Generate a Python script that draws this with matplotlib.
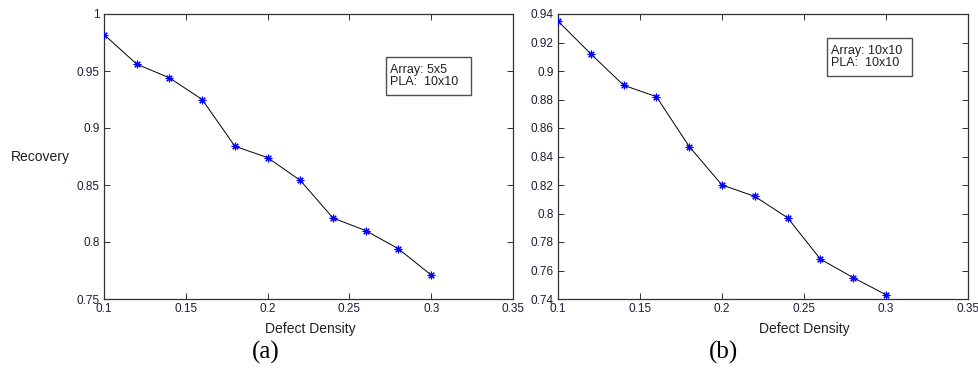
import matplotlib
matplotlib.use("Agg")
import matplotlib.pyplot as plt
from matplotlib.patches import Rectangle

plt.rcParams['font.family'] = ['Liberation Sans', 'DejaVu Sans']

density = [0.10, 0.12, 0.14, 0.16, 0.18, 0.20, 0.22, 0.24, 0.26, 0.28, 0.30]
recovery_a = [0.982, 0.956, 0.944, 0.925, 0.884, 0.874, 0.854, 0.821, 0.810, 0.794, 0.771]
recovery_b = [0.935, 0.912, 0.890, 0.882, 0.847, 0.820, 0.812, 0.797, 0.768, 0.755, 0.743]

xticks = [0.1, 0.15, 0.2, 0.25, 0.3, 0.35]
xticklabels = ['0.1', '0.15', '0.2', '0.25', '0.3', '0.35']
yticks_a = [0.75, 0.8, 0.85, 0.9, 0.95, 1.0]
yticklabels_a = ['0.75', '0.8', '0.85', '0.9', '0.95', '1']
yticks_b = [0.74, 0.76, 0.78, 0.80, 0.82, 0.84, 0.86, 0.88, 0.90, 0.92, 0.94]
yticklabels_b = ['0.74', '0.76', '0.78', '0.8', '0.82', '0.84', '0.86', '0.88', '0.9', '0.92', '0.94']

legend_a = "Array: 5x5\nPLA:  10x10"
legend_b = "Array: 10x10\nPLA:  10x10"

W, H = 979, 368
fig = plt.figure(figsize=(W / 100, H / 100), dpi=100)

def px_rect(l, t, r, b):
    return [l / W, 1 - b / H, (r - l) / W, (b - t) / H]

axA = fig.add_axes(px_rect(104, 14, 513, 299))
axB = fig.add_axes(px_rect(558, 14, 968, 299))

tick_col = '#1c1c38'
for ax, y, yt, ytl, ylim in [
    (axA, recovery_a, yticks_a, yticklabels_a, (0.75, 1.0)),
    (axB, recovery_b, yticks_b, yticklabels_b, (0.74, 0.94)),
]:
    ax.plot(density, y, color='black', lw=0.7, zorder=2)
    ax.plot(density, y, linestyle='none', marker=(8, 2, 0), markersize=5.5,
            markeredgecolor='#0000ff', markeredgewidth=0.8, zorder=3)
    ax.set_xlim(0.1, 0.35)
    ax.set_ylim(*ylim)
    ax.set_xticks(xticks)
    ax.set_xticklabels(xticklabels)
    ax.set_yticks(yt)
    ax.set_yticklabels(ytl)
    ax.tick_params(direction='in', top=True, right=True, length=4, width=0.7,
                   labelsize=8.5, colors='#303030', labelcolor=tick_col, pad=3)
    for s in ax.spines.values():
        s.set_linewidth(0.9)
        s.set_color('#303030')
    ax.set_xlabel('Defect Density', fontsize=10, color='#202020')

axA.xaxis.set_label_coords(0.505, -0.082)
axB.xaxis.set_label_coords(0.60, -0.082)
axA.set_ylabel('Recovery', fontsize=10, color='#202020', rotation=0, va='center', ha='center')
axA.yaxis.set_label_coords(-0.155, 0.5)

# legend-like boxes
for (l, t, r, b), txt in [((386, 57, 471, 95), legend_a), ((827, 38, 912, 76), legend_b)]:
    fig.patches.append(Rectangle((l / W, 1 - b / H), (r - l) / W, (b - t) / H,
                                 transform=fig.transFigure, fill=True, facecolor='white',
                                 edgecolor='#505050', lw=1.0, zorder=5))
    fig.text((l + 4) / W, 1 - ((t + b) / 2) / H, txt, fontsize=9, va='center', ha='left',
             color='#202020', linespacing=1.1, zorder=6)

fig.text(266 / W, 1 - 352 / H, '(a)', fontsize=18, family=['Liberation Serif', 'DejaVu Serif'],
         ha='center', va='center')
fig.text(723 / W, 1 - 352 / H, '(b)', fontsize=18, family=['Liberation Serif', 'DejaVu Serif'],
         ha='center', va='center')

fig.savefig('out.png', dpi=100)
